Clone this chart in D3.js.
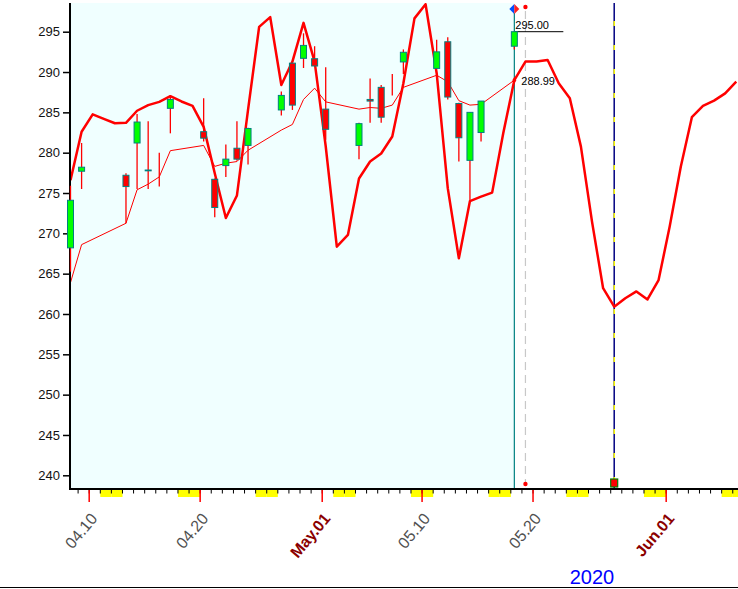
<!DOCTYPE html>
<html>
<head>
<meta charset="utf-8">
<script src="https://cdn.jsdelivr.net/npm/d3@7"></script>
<style>
body { margin: 0; background: #fff; }
svg { display: block; font-family: "Liberation Sans", Arial, sans-serif; }
</style>
</head>
<body>
<div id="chart"></div>
<script>
var width = 738, height = 589;
var left = 70, top_ = 3, bottom = 489, right = 738;

// trading days (candles)
var days   = ["2020-04-08","2020-04-09","2020-04-13","2020-04-14","2020-04-15","2020-04-16","2020-04-17",
              "2020-04-20","2020-04-21","2020-04-22","2020-04-23","2020-04-24","2020-04-27","2020-04-28",
              "2020-04-29","2020-04-30","2020-05-01","2020-05-04","2020-05-05","2020-05-06","2020-05-07",
              "2020-05-08","2020-05-11","2020-05-12","2020-05-13","2020-05-14","2020-05-15","2020-05-18"];
var opens  = [268.2,277.7,277.2,281.2,277.85,277.0,285.5,282.6,276.7,278.4,280.55,280.9,285.3,291.1,
              291.7,291.65,285.4,280.9,286.6,288.1,288.5,291.25,290.45,293.75,286.1,279.05,282.5,293.2];
var highs  = [275.9,281.2,277.45,284.8,283.9,280.0,287.15,286.75,276.8,281.0,283.9,283.1,287.6,291.3,
              294.8,293.2,290.6,283.7,289.2,288.4,289.75,292.8,294.0,294.3,286.2,285.0,286.4,295.1];
var lows   = [265.25,275.5,271.25,275.5,275.5,275.8,282.4,281.4,272.0,277.0,279.0,278.55,284.6,285.3,
              290.5,290.7,281.6,279.2,283.7,283.7,287.1,289.75,290.4,286.6,278.9,274.1,281.4,292.8];
var closes = [274.1,278.2,275.8,283.8,277.75,277.0,286.6,281.8,273.2,279.2,279.2,283.0,287.1,285.9,
              293.3,290.75,282.9,283.6,286.4,284.4,288.5,292.45,292.5,286.9,281.85,285.0,286.4,295.0];
// moving average, one value per trading day
var maValues = [263.9,268.6,271.25,275.4,276.1,277.0,280.25,280.9,278.3,278.7,278.9,280.3,282.8,283.5,
                286.6,288.0,286.3,285.4,285.6,285.5,285.9,288.1,289.6,288.8,286.45,285.9,286.0,288.99];

// projected cycle, one value per calendar day from cycleStart
var cycleStart = "2020-04-08";
var cycleValues = [276.6,282.6,284.75,284.2,283.65,283.7,285.2,285.9,286.3,287.0,
                   286.35,285.8,283.2,277.45,271.9,274.7,285.3,295.6,296.8,288.4,
                   291.3,296.1,291.3,280.8,268.35,269.8,276.8,278.9,279.9,282.0,
                   288.6,296.65,298.4,289.85,275.6,266.9,274.0,274.55,275.05,282.4,
                   289.0,291.3,291.3,291.5,288.6,286.75,280.75,271.45,263.2,260.9,
                   261.95,262.8,261.8,264.2,270.85,278.25,284.4,285.8,286.45,287.35,288.8];

var yTicks = [240,245,250,255,260,265,270,275,280,285,290,295];
var labelDays  = ["2020-04-10","2020-04-20","2020-05-01","2020-05-10","2020-05-20","2020-06-01"];
var labelTexts = ["04.10","04.20","May.01","05.10","05.20","Jun.01"];
var labelMonth = [false,false,true,false,false,true];

var firstDay = "2020-04-08", lastDay = "2020-06-07";
var cursorDay = "2020-05-18", nextDay = "2020-05-19", markDay = "2020-05-27";
var lastClose = 295.00, lastMa = 288.99;
var yearText = "2020";

var parse = d3.utcParse("%Y-%m-%d");
var dayW = 11.096;

var x = d3.scaleUtc()
    .domain([parse(firstDay), parse(lastDay)])
    .range([70.5, 70.5 + 60 * dayW]);
var y = d3.scaleLinear()
    .domain([240, 295])
    .range([475.3, 31.7]);

var svg = d3.select("#chart").append("svg")
    .attr("width", width)
    .attr("height", height);

svg.append("defs").append("clipPath").attr("id", "plotclip")
    .append("rect")
    .attr("x", left).attr("y", top_)
    .attr("width", right - left).attr("height", bottom - top_);

// history background
svg.append("rect")
    .attr("x", left).attr("y", top_)
    .attr("width", x(parse(cursorDay)) - left)
    .attr("height", bottom - top_)
    .attr("fill", "#f0ffff");

var plot = svg.append("g").attr("clip-path", "url(#plotclip)");

// vertical markers
plot.append("line")
    .attr("x1", x(parse(markDay))).attr("x2", x(parse(markDay)))
    .attr("y1", top_).attr("y2", bottom)
    .attr("stroke", "#000080").attr("stroke-width", 1.5);
plot.append("line")
    .attr("x1", x(parse(markDay))).attr("x2", x(parse(markDay)))
    .attr("y1", top_ + 18).attr("y2", bottom)
    .attr("stroke", "#ffff00").attr("stroke-width", 1.5)
    .attr("stroke-dasharray", "5,19");
plot.append("line")
    .attr("x1", x(parse(nextDay))).attr("x2", x(parse(nextDay)))
    .attr("y1", top_ + 8).attr("y2", bottom - 4)
    .attr("stroke", "#c8c8c8").attr("stroke-width", 1.2)
    .attr("stroke-dasharray", "8,5");
plot.append("line")
    .attr("x1", x(parse(cursorDay))).attr("x2", x(parse(cursorDay)))
    .attr("y1", top_ + 10).attr("y2", bottom)
    .attr("stroke", "#008080").attr("stroke-width", 1.2);

// cycle projection
var cycle = cycleValues.map(function (v, i) {
    return { d: d3.utcDay.offset(parse(cycleStart), i), v: v };
});
plot.append("path")
    .datum(cycle)
    .attr("fill", "none")
    .attr("stroke", "#ff0000")
    .attr("stroke-width", 2.5)
    .attr("stroke-linejoin", "round")
    .attr("d", d3.line()
        .x(function (d) { return x(d.d); })
        .y(function (d) { return y(d.v); }));

// moving average
var candles = days.map(function (d, i) {
    return { d: parse(d), o: opens[i], h: highs[i], l: lows[i], c: closes[i], ma: maValues[i] };
});
plot.append("path")
    .datum(candles)
    .attr("fill", "none")
    .attr("stroke", "#ff0000")
    .attr("stroke-width", 1)
    .attr("d", d3.line()
        .x(function (d) { return x(d.d); })
        .y(function (d) { return y(d.ma); }));

// last values
var cx = x(parse(cursorDay));
svg.append("line")
    .attr("x1", cx).attr("x2", cx + 49)
    .attr("y1", y(lastClose)).attr("y2", y(lastClose))
    .attr("stroke", "#000").attr("stroke-width", 1);
svg.append("text")
    .attr("x", cx + 1).attr("y", y(lastClose) - 3)
    .attr("font-size", 11).attr("fill", "#000")
    .text(lastClose.toFixed(2));
svg.append("text")
    .attr("x", cx + 7).attr("y", y(lastMa) + 4.5)
    .attr("font-size", 11).attr("fill", "#000")
    .text(lastMa.toFixed(2));
svg.append("path")
    .attr("d", d3.symbol().type(d3.symbolDiamond).size(14)())
    .attr("transform", "translate(" + cx + "," + y(lastMa) + ")")
    .attr("fill", "#ff0000");

// top markers
var dy0 = 9;
svg.append("path")
    .attr("d", "M" + (cx - 5) + "," + dy0 + "L" + cx + "," + (dy0 - 5) + "L" + cx + "," + (dy0 + 5) + "Z")
    .attr("fill", "#0050ff");
svg.append("path")
    .attr("d", "M" + (cx + 5) + "," + dy0 + "L" + cx + "," + (dy0 - 5) + "L" + cx + "," + (dy0 + 5) + "Z")
    .attr("fill", "#ff2020");
svg.append("circle")
    .attr("cx", x(parse(nextDay))).attr("cy", 7).attr("r", 2.2).attr("fill", "#ff0000");
svg.append("circle")
    .attr("cx", x(parse(nextDay))).attr("cy", bottom - 5).attr("r", 2.2).attr("fill", "#ff0000");
svg.append("rect")
    .attr("x", x(parse(markDay)) - 3.5).attr("y", bottom - 10)
    .attr("width", 7).attr("height", 8)
    .attr("fill", "#ff0000").attr("stroke", "#008000").attr("stroke-width", 1.2);

// x axis: weekends, day ticks, labels
var allDays = d3.utcDay.range(parse(firstDay), d3.utcDay.offset(parse(lastDay), 1));
var tickOff = -3.5;
svg.selectAll("rect.weekend")
    .data(allDays.filter(function (d) { return d.getUTCDay() === 6 || d.getUTCDay() === 0; }))
    .enter().append("rect")
    .attr("class", "weekend")
    .attr("x", function (d) { return x(d) + tickOff; })
    .attr("y", bottom + 1)
    .attr("width", function (d) { return Math.min(dayW, right - (x(d) + tickOff)); })
    .attr("height", 7)
    .attr("fill", "#ffff00");
svg.selectAll("line.dtick")
    .data(allDays.filter(function (d) { return x(d) + tickOff > left; }))
    .enter().append("line")
    .attr("class", "dtick")
    .attr("x1", function (d) { return x(d) + tickOff; })
    .attr("x2", function (d) { return x(d) + tickOff; })
    .attr("y1", bottom).attr("y2", bottom + 4.5)
    .attr("stroke", "#000").attr("stroke-width", 1);
svg.selectAll("line.mtick")
    .data(labelDays)
    .enter().append("line")
    .attr("class", "mtick")
    .attr("x1", function (d) { return x(parse(d)) + tickOff; })
    .attr("x2", function (d) { return x(parse(d)) + tickOff; })
    .attr("y1", bottom).attr("y2", bottom + 13)
    .attr("stroke", "#ff0000").attr("stroke-width", 1.5);
svg.selectAll("text.xlab")
    .data(labelDays)
    .enter().append("text")
    .attr("class", "xlab")
    .attr("text-anchor", "end")
    .attr("font-size", 16)
    .attr("font-weight", function (d, i) { return labelMonth[i] ? "bold" : "normal"; })
    .attr("fill", function (d, i) { return labelMonth[i] ? "#8b0000" : "#505050"; })
    .attr("transform", function (d) {
        return "translate(" + (x(parse(d)) + tickOff + 9) + "," + (bottom + 30) + ") rotate(-50)";
    })
    .text(function (d, i) { return labelTexts[i]; });

svg.append("line")
    .attr("x1", left - 1).attr("x2", right)
    .attr("y1", bottom).attr("y2", bottom)
    .attr("stroke", "#000").attr("stroke-width", 2);

// y axis
var yAxis = d3.axisLeft(y).tickValues(yTicks).tickSize(7).tickPadding(3);
var gY = svg.append("g")
    .attr("transform", "translate(" + left + ",0)")
    .call(yAxis);
gY.select(".domain").remove();
gY.selectAll(".tick line").attr("stroke", "#000").attr("stroke-width", 1.5);
gY.selectAll(".tick text")
    .attr("font-family", "'Liberation Sans', Arial, sans-serif")
    .attr("font-size", 13).attr("fill", "#111");
svg.append("line")
    .attr("x1", left).attr("x2", left)
    .attr("y1", top_).attr("y2", bottom + 1)
    .attr("stroke", "#000").attr("stroke-width", 2);

// candles, drawn last so the first one sits over the axis line
var gC = svg.append("g").selectAll("g.candle")
    .data(candles)
    .enter().append("g")
    .attr("class", "candle");
gC.append("line")
    .attr("x1", function (d) { return x(d.d); })
    .attr("x2", function (d) { return x(d.d); })
    .attr("y1", function (d) { return y(d.h); })
    .attr("y2", function (d) { return y(d.l); })
    .attr("stroke", "#ff0000")
    .attr("stroke-width", 1.3);
gC.filter(function (d) { return d.o !== d.c; })
    .append("rect")
    .attr("x", function (d) { return x(d.d) - 3; })
    .attr("width", 6)
    .attr("y", function (d) { return y(Math.max(d.o, d.c)); })
    .attr("height", function (d) { return Math.max(0.5, Math.abs(y(d.o) - y(d.c))); })
    .attr("fill", function (d) { return d.c > d.o ? "#00ff00" : "#ff0000"; })
    .attr("stroke", "#008080")
    .attr("stroke-width", 1);

svg.append("text")
    .attr("x", 592).attr("y", 584)
    .attr("text-anchor", "middle")
    .attr("font-size", 20).attr("fill", "#0000ff")
    .text(yearText);

svg.append("line")
    .attr("x1", 0).attr("x2", width)
    .attr("y1", 587.5).attr("y2", 587.5)
    .attr("stroke", "#000").attr("stroke-width", 1);
</script>
</body>
</html>
